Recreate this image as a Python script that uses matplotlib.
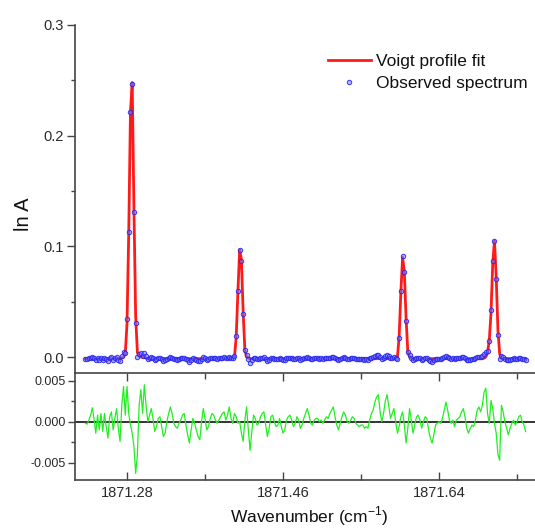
import numpy as np
import matplotlib
matplotlib.use("Agg")
import matplotlib.pyplot as plt
from matplotlib.ticker import MultipleLocator, FixedLocator

plt.rcParams['font.family'] = ['Liberation Sans', 'DejaVu Sans']

# ---------------- data ----------------
X_START, X_STOP, N_POINTS = 1871.232, 1871.740, 255

# Voigt profile fit (units of 1e-3 ln A)
fit_milli = [
    -1.5, -1.5, -1.5, -1.5, -1.5, -1.5, -1.5, -1.5, -1.5, -1.5, -1.5, -1.5, -1.5, -1.5, -1.5,
    -1.5, -1.5, -1.5, -1.5, -1.5, -1.5, -1, 0, 3, 30, 112, 222, 248, 134, 37,
    4, 1, 0, 0, -0.5, -1, -1.5, -1.5, -1.5, -1.5, -1.5, -1.5, -1.5, -1.5, -1.5,
    -1.5, -1.5, -1.5, -1.5, -1.5, -1.5, -1.5, -1.5, -1.5, -1.5, -1.5, -1.5, -1.5, -1.5, -1.5,
    -1.5, -1.5, -1.5, -1.5, -1.5, -1.5, -1.5, -1.5, -1.5, -1.5, -1.5, -1.5, -1.5, -1.5, -1.5,
    -1.5, -1.5, -1.5, -1.5, -1.5, -1.5, -1.5, -1.5, -1.5, -1.5, -1, 0, 18, 60, 97,
    88, 41, 6, 0, -1, -1.5, -1.5, -1.5, -1.5, -1.5, -1.5, -1.5, -1.5, -1.5, -1.5,
    -1.5, -1.5, -1.5, -1.5, -1.5, -1.5, -1.5, -1.5, -1.5, -1.5, -1.5, -1.5, -1.5, -1.5, -1.5,
    -1.5, -1.5, -1.5, -1.5, -1.5, -1.5, -1.5, -1.5, -1.5, -1.5, -1.5, -1.5, -1.5, -1.5, -1.5,
    -1.5, -1.5, -1.5, -1.5, -1.5, -1.5, -1.5, -1.5, -1.5, -1.5, -1.5, -1.5, -1.5, -1.5, -1.5,
    -1.5, -1.5, -1.5, -1.5, -1.5, -1.5, -1.5, -1.5, -1.5, -1.5, -1.5, -1.5, -1.5, -1.5, -1.5,
    -1.5, -1.5, -1.5, -1.5, -1.5, -1.5, -1.5, -1.5, -1.5, -1.5, -1.5, -1.5, -1.5, -1.5, -1,
    0, 18, 59, 90, 77, 35, 5, 0, -1, -1.5, -1.5, -1.5, -1.5, -1.5, -1.5,
    -1.5, -1.5, -1.5, -1.5, -1.5, -1.5, -1.5, -1.5, -1.5, -1.5, -1.5, -1.5, -1.5, -1.5, -1.5,
    -1.5, -1.5, -1.5, -1.5, -1.5, -1.5, -1.5, -1.5, -1.5, -1.5, -1.5, -1.5, -1.5, -1.5, -1.5,
    -1.5, -1.5, -1.5, -1.5, -1.5, -1, 0, 4, 15, 40, 85, 105, 72, 24, 3,
    -1, -1.5, -1.5, -1.5, -1.5, -1.5, -1.5, -1.5, -1.5, -1.5, -1.5, -1.5, -1.5, -1.5, -1.5,
]

# residual (observed - fit), units of 1e-4
resid_e4 = [
    -2, -3, 2, 8, 17, 3, -14, 8, -10, 10, -12, 10, -6, -20, 6,
    12, -10, 4, 16, -8, -24, 20, 43, 8, 43, 10, -4, -14, -30, -63,
    -40, 20, 39, 10, 45, 20, 0, 8, 16, 4, -12, -6, 4, 6, -6,
    -18, -14, 0, 10, 18, 10, -2, -6, -8, -2, 2, 8, 10, -4, -16,
    -26, -10, 4, -2, -10, -18, -22, 0, 16, 4, -10, -6, 4, 10, 8,
    2, -2, 2, 6, 10, 12, 2, 8, 18, 4, -2, 10, 6, -2, 0,
    -14, -24, 2, 18, -10, -35, -12, 8, 4, -4, -2, 6, 10, 12, -4,
    -18, -8, 6, 8, 0, -6, -4, 4, -6, -14, -10, 2, 6, 8, 2,
    -6, -2, 6, 2, -8, -4, 4, 10, 16, 8, -2, -4, 2, 4, 4,
    0, 2, -2, 2, 6, 4, 10, 14, 18, 6, -4, -10, -2, 6, 12,
    8, 0, -2, 2, 6, 4, -2, -4, -6, -4, -4, -8, -6, -8, 2,
    10, 14, 24, 30, 33, 12, 0, 10, 25, 33, 20, 4, 10, 16, 0,
    -14, -6, 6, 12, -4, -26, -8, 16, 2, -14, -4, 6, 8, 2, -8,
    0, 6, 4, -10, -20, -26, -16, -4, -2, 0, -2, 4, 14, 24, 14,
    2, -2, 2, -6, 2, 4, 6, 12, 16, 6, -8, -14, -8, -4, -6,
    2, 14, 18, 12, 20, 36, 41, 10, -2, 26, 16, -2, -14, -40, -47,
    20, 12, 0, -8, -16, -8, -2, 2, -4, 0, 6, 8, 0, -4, -12,
]

x_ticks = [1871.28, 1871.46, 1871.64]
x_tick_labels = ["1871.28", "1871.46", "1871.64"]
top_yticks = [0.0, 0.1, 0.2, 0.3]
top_ytick_labels = ["0.0", "0.1", "0.2", "0.3"]
bot_yticks = [-0.005, 0.0, 0.005]
bot_ytick_labels = ["-0.005", "0.000", "0.005"]

wn = np.linspace(X_START, X_STOP, N_POINTS)
fit = np.array(fit_milli) * 1e-3
resid = np.array(resid_e4) * 1e-4
obs = fit + resid

# ---------------- figure ----------------
W, H = 535, 529
fig = plt.figure(figsize=(W / 100, H / 100), dpi=100)

def fx(px):
    return px / W

def fy(py):
    return 1 - py / H

left = fx(75)
right = fx(545)
ax_top = fig.add_axes([left, fy(373), right - left, fy(25) - fy(373)])
ax_bot = fig.add_axes([left, fy(480), right - left, fy(373) - fy(480)])

xmin = 1871.28 - (127 - 75) / 866.7
xmax = 1871.28 + (545 - 127) / 866.7

tick_col = '#2a2a2a'

# top panel
ax_top.plot(wn, fit, color='#ff1a1a', lw=2.0, label='Voigt profile fit', zorder=2)
ax_top.plot(wn, obs, ls='none', marker='o', ms=3.2, mfc=(0.45, 0.45, 1.0, 0.55),
            mec=(0.15, 0.15, 0.95, 0.9), mew=0.7, label='Observed spectrum', zorder=3)
ax_top.set_xlim(xmin, xmax)
ax_top.set_ylim(-0.01445, 0.3)
for s in ['top', 'right', 'bottom']:
    ax_top.spines[s].set_visible(False)
ax_top.spines['left'].set_color('#444444')
ax_top.spines['left'].set_linewidth(1.2)
ax_top.set_xticks([])
ax_top.yaxis.set_major_locator(FixedLocator(top_yticks))
ax_top.set_yticklabels(top_ytick_labels)
ax_top.yaxis.set_minor_locator(MultipleLocator(0.05))
ax_top.tick_params(axis='y', which='major', direction='out', length=6, width=1,
                   color='#444444', labelsize=10.5, labelcolor=tick_col, pad=2)
ax_top.tick_params(axis='y', which='minor', direction='out', length=3, width=1, color='#444444')
ax_top.patch.set_alpha(0)
fig.text(fx(24), fy(214), 'ln A', rotation=90, ha='center', va='center',
         fontsize=14.5, color='#111111')

leg = ax_top.legend(loc='upper left', bbox_to_anchor=(fx(328), fy(54)),
                    bbox_transform=fig.transFigure, frameon=False, fontsize=12.5,
                    handlelength=2.45, handletextpad=0.3, labelspacing=0.37,
                    borderpad=0, borderaxespad=0, numpoints=1)
for t in leg.get_texts():
    t.set_color('#111111')

# bottom panel
ax_bot.plot(wn, resid, color='#22ee22', lw=0.9, zorder=3)
ax_bot.axhline(0, color='#333333', lw=1.4, zorder=2)
ax_bot.set_xlim(xmin, xmax)
ax_bot.set_ylim(-0.00711, 0.00594)
ax_bot.spines['right'].set_visible(False)
for s in ['top', 'bottom', 'left']:
    ax_bot.spines[s].set_color('#444444')
    ax_bot.spines[s].set_linewidth(1.2)
ax_bot.xaxis.set_major_locator(FixedLocator(x_ticks))
ax_bot.set_xticklabels(x_tick_labels)
ax_bot.xaxis.set_minor_locator(MultipleLocator(0.09))
ax_bot.tick_params(axis='x', which='both', direction='in', top=True, bottom=True,
                   color='#444444', width=1)
ax_bot.tick_params(axis='x', which='major', length=6, labelsize=10.5, labelcolor=tick_col, pad=4)
ax_bot.tick_params(axis='x', which='minor', length=4)
ax_bot.yaxis.set_major_locator(FixedLocator(bot_yticks))
ax_bot.set_yticklabels(bot_ytick_labels)
ax_bot.yaxis.set_minor_locator(MultipleLocator(0.0025))
ax_bot.tick_params(axis='y', which='major', direction='out', length=5, width=1,
                   color='#444444', labelsize=9, labelcolor=tick_col, pad=1.5)
ax_bot.tick_params(axis='y', which='minor', direction='out', length=3, width=1, color='#444444')
fig.text(fx(309), fy(516), 'Wavenumber (cm$^{\\mathregular{-1}}$)', ha='center', va='center',
         fontsize=12.5, color='#111111')

fig.savefig('out.png', dpi=100)
